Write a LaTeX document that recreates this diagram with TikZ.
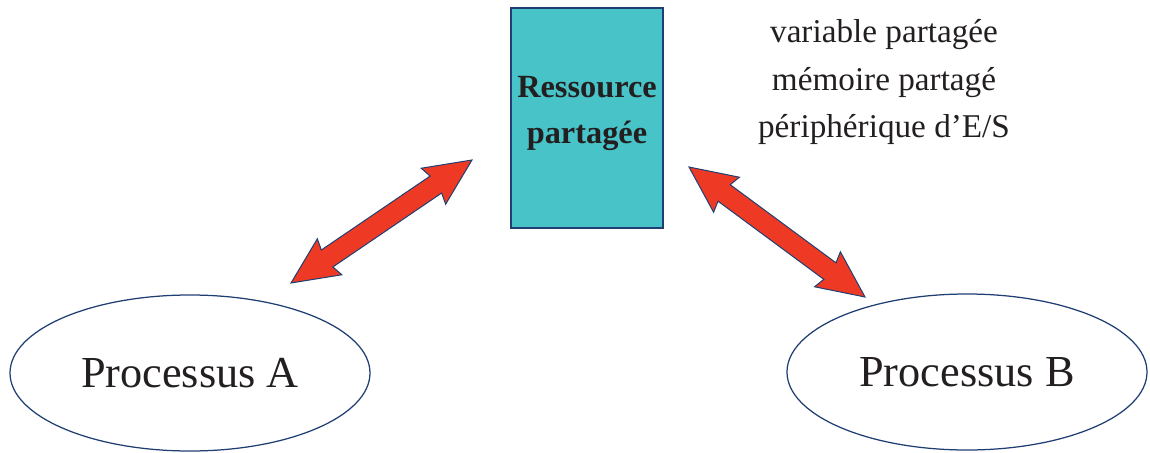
\documentclass[tikz,border=0pt]{standalone}
\usepackage{fontspec}
\setmainfont{Liberation Serif}
\usepackage{tikz}
\usetikzlibrary{shapes.geometric,shapes.arrows,calc}
\definecolor{LineNavy}{HTML}{1F3F73}
\definecolor{BoxTeal}{HTML}{48C3C8}
\definecolor{ArrowRed}{HTML}{EE3A24}
\definecolor{Ink}{HTML}{231F20}

\begin{document}
\begin{tikzpicture}[x=0.2mm,y=-0.2mm,
  process/.style={draw=LineNavy,line width=0.25mm,ellipse,inner sep=0pt,minimum width=72mm,minimum height=31.2mm,font=\fontsize{25.2}{29}\selectfont,text=Ink},
  bigarrow/.style={double arrow,draw=LineNavy,line width=0.2mm,fill=ArrowRed,inner xsep=0pt,inner ysep=1.95mm,minimum width=0pt,double arrow head extend=2.3mm,double arrow tip angle=50,double arrow head indent=0.6mm}]
  \useasboundingbox (0,0) rectangle (1150,452);
  % shared resource and what it can be
  \node[draw=LineNavy,line width=0.25mm,fill=BoxTeal,minimum width=30.4mm,minimum height=44mm,align=center,text depth=3.3mm,font=\fontsize{18.4}{25.9}\selectfont\bfseries,text=Ink] (res) at (587,118) {Ressource\\partagée};
  \node[align=center,font=\fontsize{18.9}{27.2}\selectfont,text=Ink] (kinds) at (884,82) {variable partagée\\mémoire partagé\\périphérique d’E/S};
  % the two processes
  \node[process] (pa) at (190,373) {Processus A};
  \node[process] (pb) at (967,372) {Processus B};
  % arrow ends
  \coordinate (a1) at (291,283);
  \coordinate (a2) at (472,160);
  \coordinate (b1) at (689,167);
  \coordinate (b2) at (865,297);
  \path let \p1=($(a2)-(a1)$),\n1={atan2(\y1,\x1)},\n2={veclen(\x1,\y1)} in
    node[bigarrow,rotate=\n1,minimum height=\n2] (la) at ($(a1)!0.5!(a2)$) {};
  \path let \p1=($(b2)-(b1)$),\n1={atan2(\y1,\x1)},\n2={veclen(\x1,\y1)} in
    node[bigarrow,rotate=\n1,minimum height=\n2] (lb) at ($(b1)!0.5!(b2)$) {};
\end{tikzpicture}
\end{document}
